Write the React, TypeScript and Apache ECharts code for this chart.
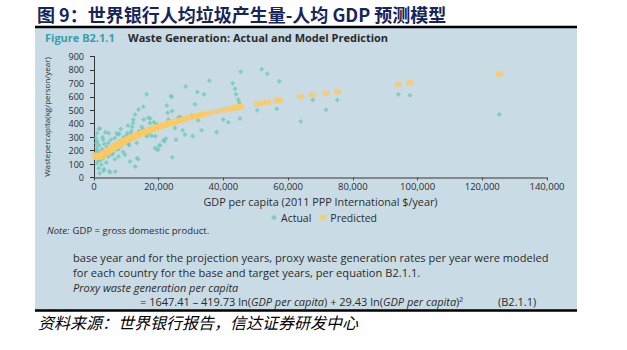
import React, { useEffect, useRef } from "react";
import * as echarts from "echarts";

// GDP per capita (2011 PPP intl $/year) for each country
const gdp = [
  600, 650, 700, 720, 750, 800, 900, 1020, 1100, 1240, 1300, 1450, 1550, 1600, 1760, 1800, 1900, 2000,
  2260, 2470, 2600, 2780, 2850, 2950, 3090, 3200, 3500, 3600, 3800, 4000, 4330, 4400, 4540, 4600, 4700,
  5000, 5200, 5500, 5870, 6000, 6400, 6450, 6600, 6800, 7000, 7400, 7500, 7600, 7800, 8000, 8250, 8440,
  8650, 9000, 9200, 9580, 9800, 10000, 10300, 10500, 10700, 10900, 11130, 11300, 11530, 11800, 12050,
  12150, 12670, 12750, 13200, 13300, 13700, 13750, 14000, 14750, 15150, 15240, 15400, 16290, 16350,
  16790, 16900, 17310, 17400, 17830, 18550, 18850, 18950, 19370, 19450, 19800, 20180, 20400, 21420,
  21730, 22200, 22470, 22780, 22970, 23800, 24000, 24100, 24200, 25040, 25350, 26060, 26600, 27400,
  28130, 28340, 30200, 30500, 31200, 31930, 32240, 33290, 34000, 35650, 37900, 39970, 41500, 42870,
  43580, 43900, 44600, 44900, 45130, 45340, 50480, 51830, 53570, 56470, 57280, 63890, 67600, 71710,
  75200, 94070, 97680, 125280,
];

// Actual waste per capita (kg/person/year)
const actual = [
  294, 186, 256, 224, 144, 106, 330, 269, 200, 169, 120, 69, 361, 240, 31, 364, 180, 130,
  94, 211, 300, 144, 281, 51, 61, 250, 336, 190, 111, 225, 156, 256, 331, 201, 44,
  40, 280, 170, 181, 240, 294, 136, 44, 210, 330, 319, 211, 156, 326, 270, 361, 236,
  276, 190, 300, 169, 260, 306, 330, 386, 250, 240, 119, 319, 344, 375, 406,
  431, 469, 81, 256, 144, 136, 506, 344, 376, 356, 526, 431, 619, 306,
  444, 331, 406, 439, 311, 411, 219, 306, 211, 394, 206, 236, 239, 276,
  269, 290, 536, 481, 431, 606, 599, 494, 151, 369, 281, 444, 452, 351,
  319, 676, 461, 306, 544, 636, 426, 351, 619, 719, 336, 431, 411, 701,
  661, 619, 581, 556, 439, 786, 501, 806, 771, 511, 716, 416, 576, 504,
  576, 619, 611, 469,
];

// Model-predicted waste per capita (kg/person/year)
const predicted = [
  167, 164, 161, 160, 159, 157, 154, 152, 151, 151, 151, 151, 152, 152, 154, 154, 156, 157,
  161, 164, 166, 169, 171, 172, 175, 177, 182, 184, 187, 191, 196, 197, 199, 200, 202,
  207, 211, 215, 221, 223, 229, 230, 232, 235, 238, 244, 245, 246, 249, 252, 255, 258,
  261, 266, 268, 273, 275, 278, 282, 284, 287, 289, 291, 293, 296, 299, 302,
  303, 308, 309, 314, 315, 319, 320, 322, 330, 334, 335, 336, 345, 345,
  349, 350, 354, 355, 358, 365, 367, 368, 372, 373, 375, 378, 380, 388,
  391, 394, 396, 399, 400, 406, 407, 408, 409, 415, 417, 422, 425, 431,
  436, 437, 449, 451, 455, 459, 461, 467, 471, 479, 491, 501, 508, 515,
  518, 520, 523, 524, 526, 527, 548, 553, 559, 571, 574, 600, 613, 626,
  637, 694, 705, 769,
];

const xMin = 0;
const xMax = 140000;
const xStep = 20000;
const yMin = 0;
const yMax = 900;
const yStep = 100;

const FONT = "'Open Sans', 'Noto Sans', sans-serif";
const CJK = "'Noto Sans CJK SC', sans-serif";
const INK = "#2b2b2b";

export default function App() {
  const ref = useRef<HTMLDivElement>(null);

  useEffect(() => {
    if (!ref.current) return;
    const chart = echarts.init(ref.current, null, { renderer: "svg" });
    const option: any = {
      animation: false,
      textStyle: { fontFamily: FONT },
      grid: { left: 94, right: 80, top: 56.5, bottom: 172.5, containLabel: false },
      xAxis: {
        type: "value",
        min: xMin,
        max: xMax,
        interval: xStep,
        name: "GDP per capita (2011 PPP International $/year)",
        nameLocation: "middle",
        nameGap: 18.5,
        nameTextStyle: { fontSize: 10.8, color: INK, fontFamily: FONT },
        axisLine: { show: true, lineStyle: { color: "#6b6b6b", width: 1.5 } },
        axisTick: { show: true, length: 3, lineStyle: { color: "#4a4a4a" } },
        axisLabel: {
          fontSize: 9.5,
          color: INK,
          margin: 4,
          fontFamily: FONT,
          formatter: (v: number) => v.toLocaleString("en-US"),
        },
        splitLine: { show: false },
      },
      yAxis: {
        type: "value",
        min: yMin,
        max: yMax,
        interval: yStep,
        name: "Wastepercapita(kg/person/year)",
        nameLocation: "middle",
        nameGap: 44,
        nameTextStyle: { fontSize: 8, color: INK, fontFamily: FONT },
        axisLine: { show: true, lineStyle: { color: "#333", width: 1 } },
        axisTick: { show: true, length: 4, lineStyle: { color: "#333" } },
        axisLabel: { fontSize: 9, color: INK, margin: 10, fontFamily: FONT },
        splitLine: { show: false },
      },
      legend: {
        left: 266,
        top: 207,
        itemWidth: 6,
        itemHeight: 6,
        itemGap: 9,
        textStyle: { fontSize: 10.5, color: INK, fontFamily: FONT, padding: [0, 0, 0, -1] },
        data: [
          { name: "Actual", icon: "diamond", itemStyle: { color: "#72c8b8" } },
          { name: "Predicted", icon: "rect", itemStyle: { color: "#fcc963" } },
        ],
      },
      graphic: [
        {
          type: "rect",
          z: -10,
          silent: true,
          shape: { x: 35, y: 28, width: 542, height: 282 },
          style: { fill: "#c9dce5" },
        },
        {
          type: "line",
          z: 10,
          shape: { x1: 35, y1: 27, x2: 577, y2: 27 },
          style: { stroke: "#000", lineWidth: 2.5 },
        },
        {
          type: "line",
          z: 10,
          shape: { x1: 35, y1: 310.5, x2: 577, y2: 310.5 },
          style: { stroke: "#000", lineWidth: 2.5 },
        },
        {
          type: "text",
          x: 37,
          y: 14,
          style: {
            text: "图 9：世界银行人均垃圾产生量-人均 GDP 预测模型",
            font: `bold 18px ${CJK}`,
            fill: "#16265a",
            align: "left",
            verticalAlign: "middle",
          },
        },
        {
          type: "text",
          x: 45,
          y: 37,
          style: {
            text: "Figure B2.1.1",
            font: `bold 11px ${FONT}`,
            fill: "#3a9daa",
            align: "left",
            verticalAlign: "middle",
          },
        },
        {
          type: "text",
          x: 128,
          y: 37,
          style: {
            text: "Waste Generation: Actual and Model Prediction",
            font: `bold 11px ${FONT}`,
            fill: "#2a2a2a",
            align: "left",
            verticalAlign: "middle",
          },
        },
        {
          type: "text",
          x: 47,
          y: 230,
          style: {
            text: "{i|Note:} {n|GDP = gross domestic product.}",
            align: "left",
            verticalAlign: "middle",
            rich: {
              i: { fontStyle: "italic", fontSize: 9.5, fontFamily: FONT, fill: INK },
              n: { fontSize: 9.5, fontFamily: FONT, fill: INK },
            },
          },
        },
        {
          type: "text",
          x: 73,
          y: 257,
          style: {
            text: "base year and for the projection years, proxy waste generation rates per year were modeled",
            font: `11.1px ${FONT}`,
            fill: INK,
            align: "left",
            verticalAlign: "middle",
          },
        },
        {
          type: "text",
          x: 73,
          y: 272,
          style: {
            text: "for each country for the base and target years, per equation B2.1.1.",
            font: `11.1px ${FONT}`,
            fill: INK,
            align: "left",
            verticalAlign: "middle",
          },
        },
        {
          type: "text",
          x: 73,
          y: 287,
          style: {
            text: "Proxy waste generation per capita",
            font: `italic 11px ${FONT}`,
            fill: INK,
            align: "left",
            verticalAlign: "middle",
          },
        },
        {
          type: "text",
          x: 140,
          y: 301.5,
          style: {
            text:
              "{n|= 1647.41 – 419.73 ln(}{i|GDP per capita}{n|) + 29.43 ln(}{i|GDP per capita}{n|)²}",
            align: "left",
            verticalAlign: "middle",
            rich: {
              n: { fontSize: 11, fontFamily: FONT, fill: INK },
              i: { fontSize: 11, fontStyle: "italic", fontFamily: FONT, fill: INK },
            },
          },
        },
        {
          type: "text",
          x: 498,
          y: 301.5,
          style: {
            text: "(B2.1.1)",
            font: `11px ${FONT}`,
            fill: INK,
            align: "left",
            verticalAlign: "middle",
          },
        },
        {
          type: "text",
          x: 38,
          y: 322,
          style: {
            text: "资料来源：世界银行报告，信达证券研发中心",
            font: `italic 16px ${CJK}`,
            fill: "#000",
            align: "left",
            verticalAlign: "middle",
          },
        },
      ],
      series: [
        {
          name: "Actual",
          type: "scatter",
          symbol: "diamond",
          symbolSize: 5,
          itemStyle: { color: "#72c8b8" },
          data: gdp.map((g, i) => [g, actual[i]]),
          z: 2,
        },
        {
          name: "Predicted",
          type: "scatter",
          symbol: "rect",
          symbolSize: [7, 5],
          itemStyle: { color: "#fcc963" },
          data: gdp.map((g, i) => [g, predicted[i]]),
          z: 3,
        },
      ],
    };
    chart.setOption(option);
    return () => chart.dispose();
  }, []);

  return (
    <div
      ref={ref}
      style={{ position: "absolute", left: 0, top: 0, width: 627, height: 350 }}
    />
  );
}
